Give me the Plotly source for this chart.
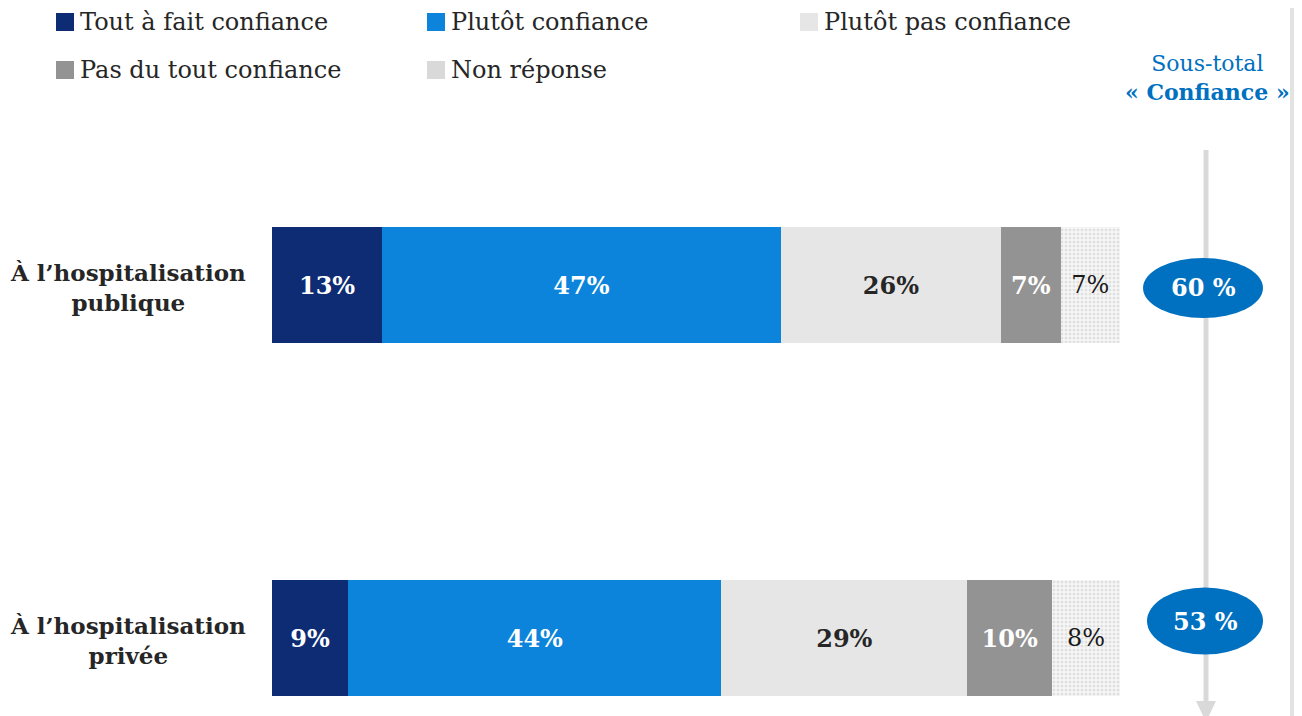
import plotly.graph_objects as go

categories = ["À l’hospitalisation<br>publique", "À l’hospitalisation<br>privée"]
series_names = ["Tout à fait confiance", "Plutôt confiance", "Plutôt pas confiance",
                "Pas du tout confiance", "Non réponse"]
tout_a_fait = [13, 9]
plutot = [47, 44]
plutot_pas = [26, 29]
pas_du_tout = [7, 10]
non_reponse = [7, 8]
sous_total = [60, 53]

values = [tout_a_fait, plutot, plutot_pas, pas_du_tout, non_reponse]
colors = ["#0D2C73", "#0C84DB", "#E6E6E6", "#939393", "#F2F2F2"]
text_colors = ["white", "white", "#262626", "white", "#1a1a1a"]
bold = [True, True, True, True, False]

FONT = "DejaVu Serif"
W, H = 1302, 716
OFF = 8  # page body margin
L, R = 272 - OFF, 1120 - OFF


def px(x):
    # x given in screen pixels
    return (x - OFF - L) / (R - L)


def py(y):
    return 1 - (y - OFF) / H


fig = go.Figure()
for i, (name, vals) in enumerate(zip(series_names, values)):
    tmpl = "<b>%{x}%</b>" if bold[i] else "%{x}%"
    marker = dict(color=colors[i], line=dict(width=0))
    if name == "Non réponse":
        marker["pattern"] = dict(shape=".", fgcolor="#C9C9C9", bgcolor="#F7F7F7",
                                 size=4, solidity=0.45)
    fig.add_trace(go.Bar(
        y=categories, x=vals, name=name, orientation="h",
        marker=marker, width=0.331,
        texttemplate=tmpl, textposition="inside", insidetextanchor="middle",
        textfont=dict(family=FONT, size=24, color=text_colors[i]),
        showlegend=False, hoverinfo="skip",
    ))

unit = 353
top = -(285 - OFF) / unit
bottom = top + H / unit
fig.update_layout(
    barmode="stack",
    width=W, height=H,
    margin=dict(l=L, r=W - R, t=0, b=0),
    paper_bgcolor="white", plot_bgcolor="white",
    xaxis=dict(range=[0, 100], visible=False, fixedrange=True),
    yaxis=dict(type="category", range=[bottom, top], visible=False, fixedrange=True),
    font=dict(family=FONT, color="#262626"),
)

shapes = []
annotations = []

# Category labels
for i, cat in enumerate(categories):
    ycenter = 287 + i * unit
    annotations.append(dict(
        x=px(128), y=py(ycenter), xref="paper", yref="paper",
        text="<b>" + cat + "</b>", showarrow=False, align="center",
        xanchor="center", yanchor="middle",
        font=dict(family=FONT, size=23, color="#262626"),
    ))

# Legend (manual)
legend_pos = [(56, 22), (427, 22), (800, 22), (56, 70), (427, 70)]
legend_colors = ["#0D2C73", "#0C84DB", "#E6E6E6", "#939393", "#D9D9D9"]
for (lx, ly), name, col in zip(legend_pos, series_names, legend_colors):
    shapes.append(dict(type="rect", xref="paper", yref="paper",
                       x0=px(lx), x1=px(lx + 18), y0=py(ly - 9), y1=py(ly + 9),
                       fillcolor=col, line=dict(width=0), layer="above"))
    annotations.append(dict(
        x=px(lx + 22), y=py(ly), xref="paper", yref="paper", text=name,
        showarrow=False, xanchor="left", yanchor="middle",
        font=dict(family=FONT, size=24, color="#262626"),
    ))

# Right separator line
shapes.append(dict(type="line", xref="paper", yref="paper",
                   x0=px(1292), x1=px(1292), y0=0, y1=1,
                   line=dict(color="#E3E3E3", width=4)))

# Arrow line and head
shapes.append(dict(type="line", xref="paper", yref="paper",
                   x0=px(1206), x1=px(1206), y0=py(150), y1=py(704),
                   line=dict(color="#D9D9D9", width=5)))
shapes.append(dict(type="path", xref="paper", yref="paper",
                   path=f"M {px(1196)},{py(701)} L {px(1216)},{py(701)} L {px(1206)},{py(722)} Z",
                   fillcolor="#D9D9D9", line=dict(width=0)))

# Sous-total title
annotations.append(dict(
    x=px(1207), y=py(78), xref="paper", yref="paper",
    text="Sous-total<br><b>« Confiance »</b>", showarrow=False,
    xanchor="center", yanchor="middle", align="center",
    font=dict(family=FONT, size=22, color="#0070C0"),
))

# Ellipses with sous-total values
ell = [(1203, 288, 120, 60), (1205, 621, 116, 67)]
for (cx, cy, ew, eh), v in zip(ell, sous_total):
    shapes.append(dict(type="circle", xref="paper", yref="paper",
                       x0=px(cx - ew / 2), x1=px(cx + ew / 2),
                       y0=py(cy - eh / 2), y1=py(cy + eh / 2),
                       fillcolor="#0070C0", line=dict(width=0)))
    annotations.append(dict(
        x=px(cx), y=py(cy), xref="paper", yref="paper",
        text=f"<b>{v} %</b>", showarrow=False, xanchor="center", yanchor="middle",
        font=dict(family=FONT, size=24, color="white"),
    ))

fig.update_layout(shapes=shapes, annotations=annotations)
fig.write_html("out.html")
